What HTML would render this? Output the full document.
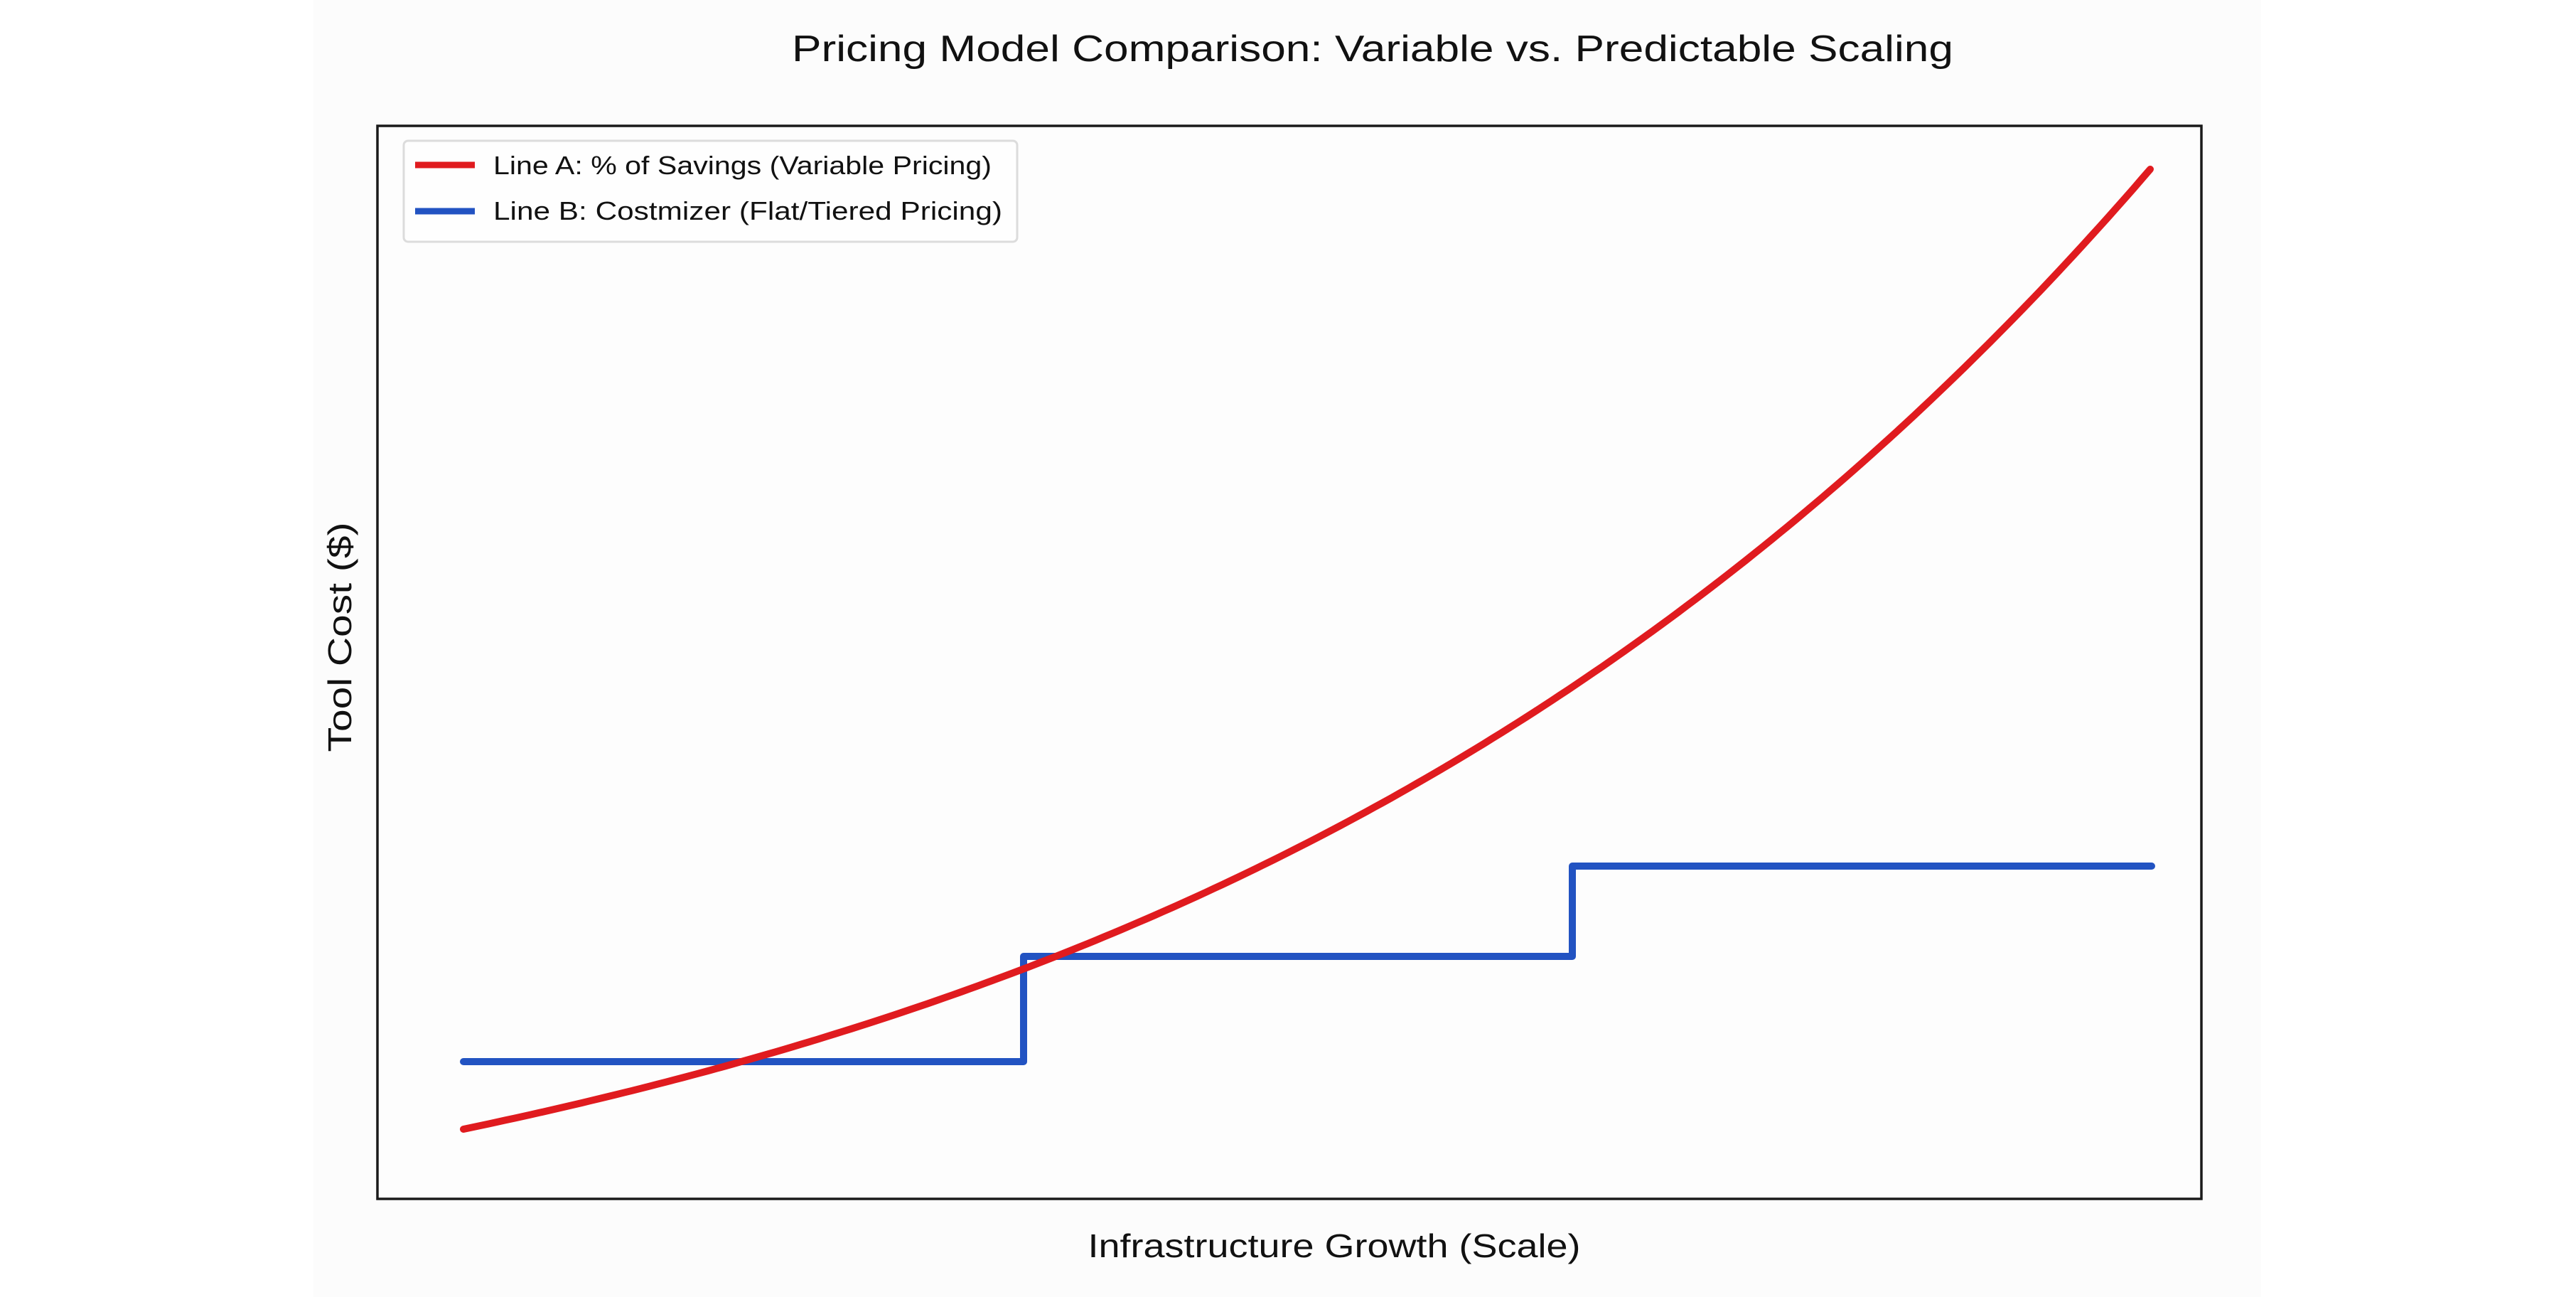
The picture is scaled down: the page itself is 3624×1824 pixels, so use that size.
<!DOCTYPE html>
<html><head><meta charset="utf-8"><style>
html,body{margin:0;padding:0;background:#fff;}
svg{display:block;}
</style></head><body>
<svg width="3624" height="1824" viewBox="0 0 3624 1824" xmlns="http://www.w3.org/2000/svg">
<rect x="0" y="0" width="3624" height="1824" fill="#ffffff"/>
<rect x="441" y="0" width="2740" height="1824" fill="#fcfcfc"/>
<text x="1931" y="86" font-family="Liberation Sans, sans-serif" font-size="52" fill="#111" text-anchor="middle" textLength="1634" lengthAdjust="spacingAndGlyphs">Pricing Model Comparison: Variable vs. Predictable Scaling</text>
<rect x="531" y="177" width="2566" height="1509" fill="#fdfdfd" stroke="#1a1a1a" stroke-width="3.5"/>
<g fill="none" stroke-linejoin="round" stroke-linecap="round">
<polyline stroke="#2253c2" stroke-width="10" points="652,1493 1440,1493 1440,1345 2212,1345 2212,1218 3027,1218"/>
<polyline id="red" stroke="#e01b1f" stroke-width="10" points="652,1588 770.7,1559.6 889.3,1528.7 1008,1495.4 1126.6,1459.2 1245.3,1420.1 1363.9,1377.6 1482.6,1331.6 1601.2,1281.8 1719.9,1227.8 1838.5,1169.5 1957.2,1106.2 2075.8,1037.6 2194.5,963.4 2313.1,882.8 2431.8,795.7 2550.4,701.2 2669.1,599 2787.7,488 2906.4,368 3025,238"/>
</g>
<script>
(function(){var p=[];var k=1.6,d=Math.exp(k)-1;for(var i=0;i<=200;i++){var t=i/200;var f=(Math.exp(k*t)-1)/d-0.012*Math.sin(Math.PI*t);p.push((652+t*2373).toFixed(1)+','+(1588-f*1350).toFixed(1));}document.getElementById('red').setAttribute('points',p.join(' '));})();
</script>
<rect x="568" y="198" width="863" height="142" rx="6" fill="#fefefe" stroke="#dcdcdc" stroke-width="3"/>
<line x1="584" y1="232" x2="668" y2="232" stroke="#e01b1f" stroke-width="9"/>
<line x1="584" y1="297" x2="668" y2="297" stroke="#2253c2" stroke-width="9"/>
<text x="694" y="245" font-family="Liberation Sans, sans-serif" font-size="36" fill="#111" textLength="701" lengthAdjust="spacingAndGlyphs">Line A: % of Savings (Variable Pricing)</text>
<text x="694" y="309" font-family="Liberation Sans, sans-serif" font-size="36" fill="#111" textLength="716" lengthAdjust="spacingAndGlyphs">Line B: Costmizer (Flat/Tiered Pricing)</text>
<text x="1877" y="1768" font-family="Liberation Sans, sans-serif" font-size="46" fill="#111" text-anchor="middle" textLength="693" lengthAdjust="spacingAndGlyphs">Infrastructure Growth (Scale)</text>
<text transform="translate(494,896) rotate(-90)" font-family="Liberation Sans, sans-serif" font-size="46" fill="#111" text-anchor="middle" textLength="323" lengthAdjust="spacingAndGlyphs">Tool Cost ($)</text>
</svg>
</body></html>
